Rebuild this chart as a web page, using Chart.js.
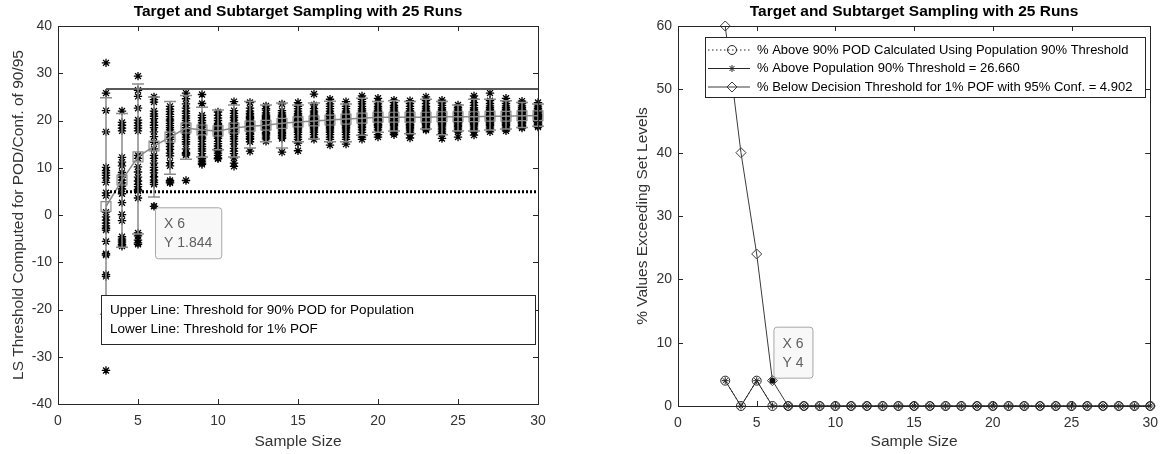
<!DOCTYPE html>
<html><head><meta charset="utf-8">
<script src="https://cdn.jsdelivr.net/npm/chart.js@4.4.0/dist/chart.umd.min.js"></script>
<style>
html,body{margin:0;padding:0;background:#fff;}
#wrap{position:relative;width:1167px;height:454px;overflow:hidden;}
#c1{position:absolute;left:0;top:0;}
#c2{position:absolute;left:583px;top:0;}
</style></head><body>
<div id="wrap"><canvas id="c1" width="583" height="454"></canvas><canvas id="c2" width="584" height="454"></canvas></div>
<script>
// ---------------- DATA ----------------
const chartTitle = 'Target and Subtarget Sampling with 25 Runs';
const sampleSizes = [3,4,5,6,7,8,9,10,11,12,13,14,15,16,17,18,19,20,21,22,23,24,25,26,27,28,29,30];
const xTicks = [0,5,10,15,20,25,30];
const leftYTicks = [-40,-30,-20,-10,0,10,20,30,40];
const rightYTicks = [0,10,20,30,40,50,60];

// 25 run thresholds per sample size (left panel)
const runsBySize = [
 [32.2,25.8,22.1,17.6,10.1,9.4,8.9,8.4,7.8,6.9,4.7,4.1,0.6,-0.4,-1.1,-1.7,-2.3,-2.8,-3.2,-5.6,-8.2,-8.5,-12.6,-13.0,-32.9],
 [22.0,19.6,19.0,18.4,17.8,12.2,11.2,10.4,9.0,8.5,8.0,7.4,6.8,6.1,5.5,4.5,2.6,0.1,-1.2,-4.6,-5.1,-5.5,-5.9,-6.3,-6.6],
 [29.4,26.4,25.1,22.6,20.1,19.5,18.9,18.4,17.8,12.6,12.0,10.2,9.1,8.0,7.2,6.5,6.0,5.4,5.1,3.6,-3.8,-4.4,-5.3,-5.9,-6.2],
 [25.0,24.4,23.9,22.0,21.4,20.9,20.4,19.6,19.0,18.5,17.6,16.6,15.4,14.0,12.6,12.0,11.0,10.1,9.5,8.9,8.1,7.4,6.9,6.5,1.844],
 [23.0,22.4,21.9,21.3,20.8,20.3,19.9,19.4,18.9,18.5,18.0,17.5,17.0,16.5,16.0,15.1,14.5,13.9,13.1,12.5,11.1,10.4,7.3,7.0,6.8],
 [25.8,24.6,23.5,22.6,22.0,21.5,21.0,20.5,20.0,19.5,19.0,18.5,18.0,17.8,17.4,17.0,16.5,16.0,15.5,15.0,14.0,13.2,13.0,12.7,7.3],
 [25.5,23.6,21.1,20.6,20.0,19.5,19.0,18.6,18.1,17.6,17.2,17.0,16.5,16.1,15.6,15.0,14.5,14.0,13.5,13.0,12.4,11.9,11.4,11.0,10.7],
 [21.8,21.1,20.5,20.0,19.4,19.1,18.6,18.2,18.0,17.6,17.3,17.0,16.6,16.2,15.6,15.1,14.6,14.1,13.6,13.1,12.6,12.1,11.9,18.8,16.8],
 [24.0,22.1,21.5,21.0,20.6,20.1,19.6,19.1,18.6,18.2,18.0,17.6,17.2,17.0,16.6,16.1,15.6,15.0,14.1,13.5,13.0,12.1,11.0,10.3,19.4],
 [23.8,22.6,22.0,21.5,21.2,20.8,20.4,20.1,19.7,19.4,19.1,18.7,18.4,18.0,17.6,17.2,17.0,16.6,16.2,16.0,15.5,13.5,20.6,19.0,18.2],
 [23.1,22.5,22.2,21.6,21.2,20.8,20.4,20.2,19.8,19.5,19.2,18.8,18.5,18.2,17.9,17.5,17.2,16.9,16.5,16.1,15.6,20.6,19.0,18.0,21.0],
 [23.5,22.1,21.6,21.2,20.8,20.5,20.2,19.8,19.5,19.2,19.0,18.8,18.5,18.2,17.8,17.5,17.2,16.8,16.5,16.2,13.3,20.0,19.4,18.6,21.0],
 [23.8,23.0,22.5,22.0,21.5,21.2,20.8,20.5,20.2,19.8,19.5,19.2,18.8,18.5,18.2,17.8,17.5,17.0,16.5,16.0,15.2,13.6,20.0,19.0,21.0],
 [25.6,23.3,22.5,22.0,21.6,21.2,20.8,20.5,20.2,20.0,19.8,19.5,19.2,18.8,18.5,18.2,17.8,17.5,17.0,16.5,16.0,20.4,19.6,19.0,21.0],
 [24.5,23.5,23.0,22.5,22.0,21.5,21.2,20.8,20.5,20.2,19.8,19.5,19.2,18.8,18.5,18.2,17.8,17.5,17.0,16.5,16.0,14.8,20.0,19.0,21.0],
 [24.0,23.0,22.5,22.0,21.6,21.2,20.8,20.5,20.2,19.8,19.5,19.2,18.8,18.5,18.2,17.8,17.5,17.0,16.5,16.0,15.0,20.0,19.0,21.0,20.6],
 [25.2,24.5,24.0,23.5,23.0,22.5,22.0,21.6,21.2,20.8,20.5,20.2,19.8,19.5,19.2,18.8,18.5,18.0,17.5,17.0,16.5,16.0,21.0,20.0,22.2],
 [24.7,24.0,23.5,23.0,22.6,22.2,21.8,21.5,21.2,20.8,20.5,20.2,19.8,19.5,19.2,18.8,18.5,18.0,17.5,17.0,16.5,21.0,20.0,22.0,19.0],
 [24.3,23.8,23.2,22.8,22.4,22.0,21.6,21.3,21.0,20.7,20.4,20.1,19.8,19.5,19.2,18.9,18.6,18.2,17.8,17.4,17.0,21.0,20.0,22.0,19.5],
 [24.2,23.6,23.0,22.5,22.0,21.6,21.2,20.8,20.5,20.2,19.8,19.5,19.2,18.8,18.5,18.2,17.8,17.4,17.0,16.3,21.0,20.0,22.0,19.0,20.6],
 [25.0,24.2,23.6,23.0,22.6,22.2,21.8,21.5,21.2,20.9,20.6,20.3,20.0,19.7,19.4,19.1,18.8,18.5,18.2,18.0,21.0,20.5,22.0,19.5,21.4],
 [24.3,23.7,23.2,22.7,22.3,21.9,21.5,21.2,20.9,20.6,20.3,20.0,19.7,19.4,19.1,18.8,18.4,18.0,17.6,16.2,21.0,20.5,22.0,19.5,17.2],
 [23.3,22.8,22.4,22.0,21.7,21.4,21.1,20.8,20.5,20.2,19.9,19.6,19.3,19.0,18.7,18.4,18.0,17.6,16.5,21.0,20.6,22.0,19.5,20.0,21.5],
 [25.2,24.5,23.8,23.2,22.7,22.3,21.9,21.5,21.2,20.9,20.6,20.3,20.0,19.7,19.4,19.1,18.8,18.4,18.0,17.6,16.9,21.0,20.5,22.0,19.5],
 [25.8,24.2,23.6,23.1,22.7,22.3,21.9,21.6,21.3,21.0,20.7,20.4,20.1,19.8,19.5,19.2,18.9,18.6,18.2,17.6,21.0,20.5,22.0,19.5,20.8],
 [24.7,24.1,23.6,23.1,22.7,22.3,21.9,21.6,21.3,21.0,20.7,20.4,20.1,19.8,19.5,19.2,18.9,18.6,18.2,17.8,21.0,20.5,22.0,19.5,20.8],
 [24.1,23.6,23.1,22.7,22.3,22.0,21.7,21.4,21.1,20.8,20.5,20.2,19.9,19.6,19.3,19.0,18.7,18.4,21.0,20.5,22.0,19.5,20.8,21.2,20.0],
 [23.8,23.3,22.9,22.5,22.2,21.9,21.6,21.3,21.0,20.7,20.4,20.1,19.8,19.5,19.2,18.9,18.6,19.0,21.0,20.5,22.0,19.5,20.8,21.2,20.0]
];
const meanVals = [1.8,7.4,12.3,14.6,16.5,18.4,18.0,17.8,18.4,18.8,19.0,19.4,19.7,19.9,20.1,20.3,20.5,20.7,20.7,20.7,20.7,20.8,20.8,20.8,20.9,20.9,21.0,21.0];
const barHigh = [24.8,21.5,27.7,25.0,24.0,25.3,22.8,22.2,23.3,24.0,23.3,23.7,23.3,23.7,24.1,23.5,24.7,24.0,24.2,24.0,24.5,24.0,23.3,24.5,24.5,24.2,23.8,23.5];
const barLow = [-21.0,-6.8,-4.0,3.8,8.6,11.8,12.3,13.8,12.3,14.2,15.5,14.2,15.5,16.1,15.5,15.5,16.9,17.5,17.8,17.2,18.2,17.0,17.8,17.8,18.0,18.2,18.5,18.8];
const popThreshold = 26.660;      // upper line
const pofThreshold = 4.902;       // lower line
const leftTip = {x: 6, y: 1.844};
const noteLines = ['Upper Line: Threshold for 90% POD for Population', 'Lower Line: Threshold for 1% POF'];

// right panel
const pctAbovePodCalc = [4,0,4,0,0,0,0,0,0,0,0,0,0,0,0,0,0,0,0,0,0,0,0,0,0,0,0,0];
const pctAbovePop     = [4,0,4,0,0,0,0,0,0,0,0,0,0,0,0,0,0,0,0,0,0,0,0,0,0,0,0,0];
const pctBelowDecision= [60,40,24,4,0,0,0,0,0,0,0,0,0,0,0,0,0,0,0,0,0,0,0,0,0,0,0,0];
const legendLabels = ['% Above 90% POD Calculated Using Population 90% Threshold',
  '% Above Population 90% Threshold = 26.660',
  '% Below Decision Threshold for 1% POF with 95% Conf. = 4.902'];
const rightTip = {x: 6, y: 4};

// ---------------- HELPERS ----------------
const FONT = '"Liberation Sans", Arial, Helvetica, sans-serif';
const AX = '#262626';
const TXT = '#333333';
Chart.defaults.font.family = FONT;
Chart.defaults.color = TXT;

function xy(xs, ys){ return xs.map((x,i)=>({x, y: ys[i]})); }

const boxPlugin = {
  id: 'mbox',
  afterDraw(chart){
    const {ctx, chartArea: a, scales} = chart;
    ctx.save();
    ctx.strokeStyle = AX; ctx.lineWidth = 1;
    ctx.strokeRect(Math.round(a.left)+0.5, Math.round(a.top)+0.5, Math.round(a.right-a.left), Math.round(a.bottom-a.top));
    const tl = 5;
    ctx.beginPath();
    scales.x.ticks.forEach(t=>{
      const px = Math.round(scales.x.getPixelForValue(t.value))+0.5;
      ctx.moveTo(px, a.bottom); ctx.lineTo(px, a.bottom - tl);
      ctx.moveTo(px, a.top); ctx.lineTo(px, a.top + tl);
    });
    scales.y.ticks.forEach(t=>{
      const py = Math.round(scales.y.getPixelForValue(t.value))+0.5;
      ctx.moveTo(a.left, py); ctx.lineTo(a.left + tl, py);
      ctx.moveTo(a.right, py); ctx.lineTo(a.right - tl, py);
    });
    ctx.stroke();
    ctx.fillStyle = '#000';
    ctx.font = 'bold 15.5px ' + FONT;
    ctx.textAlign = 'center'; ctx.textBaseline = 'middle';
    ctx.fillText(chartTitle, (a.left + a.right)/2, 12);
    ctx.restore();
  }
};

function drawTip(chart, tip, below){
  const {ctx, scales} = chart;
  const px = scales.x.getPixelForValue(tip.x), py = scales.y.getPixelForValue(tip.y);
  const lines = ['X ' + tip.x, 'Y ' + tip.y];
  ctx.save();
  ctx.font = '14px ' + FONT;
  const w = Math.max(...lines.map(l=>ctx.measureText(l).width)) + 18;
  const h = 51;
  const bx = px + 1, by = below ? py + 1 : py - h - 3;
  ctx.fillStyle = 'rgba(248,248,248,0.95)';
  ctx.strokeStyle = '#a8a8a8'; ctx.lineWidth = 1;
  ctx.beginPath();
  if (ctx.roundRect) ctx.roundRect(bx+0.5, by+0.5, w, h, 3); else ctx.rect(bx+0.5, by+0.5, w, h);
  ctx.fill(); ctx.stroke();
  ctx.fillStyle = '#606060';
  ctx.textAlign = 'left'; ctx.textBaseline = 'middle';
  ctx.fillText(lines[0], bx + 9, by + 17);
  ctx.fillText(lines[1], bx + 9, by + 36);
  ctx.fillStyle = '#111';
  ctx.beginPath(); ctx.arc(px, py, 3, 0, Math.PI*2); ctx.fill();
  ctx.restore();
}

// ---------------- LEFT CHART ----------------
const scatterPts = [];
runsBySize.forEach((col,i)=>col.forEach(v=>scatterPts.push({x: sampleSizes[i], y: v})));

const leftExtras = {
  id: 'leftExtras',
  afterDatasetsDraw(chart){
    const {ctx, scales} = chart;
    ctx.save();
    ctx.strokeStyle = '#8a8a8a'; ctx.lineWidth = 1.5;
    ctx.beginPath();
    sampleSizes.forEach((s,i)=>{
      const px = scales.x.getPixelForValue(s);
      const yh = scales.y.getPixelForValue(barHigh[i]), yl = scales.y.getPixelForValue(barLow[i]);
      ctx.moveTo(px, yh); ctx.lineTo(px, yl);
      ctx.moveTo(px-6, yh); ctx.lineTo(px+6, yh);
      ctx.moveTo(px-6, yl); ctx.lineTo(px+6, yl);
    });
    ctx.stroke();
    ctx.restore();
  },
  afterDraw(chart){
    const {ctx} = chart;
    ctx.save();
    ctx.fillStyle = '#fff'; ctx.strokeStyle = AX; ctx.lineWidth = 1;
    ctx.fillRect(101, 295, 434, 49);
    ctx.strokeRect(101.5, 295.5, 434, 49);
    ctx.fillStyle = '#000'; ctx.font = '13.5px ' + FONT;
    ctx.textAlign = 'left'; ctx.textBaseline = 'middle';
    ctx.fillText(noteLines[0], 110, 310);
    ctx.fillText(noteLines[1], 110, 329);
    ctx.restore();
    drawTip(chart, leftTip, true);
  }
};

new Chart(document.getElementById('c1'), {
  type: 'scatter',
  data: { datasets: [
    { label: 'upper', data: [{x: sampleSizes[0], y: popThreshold}, {x: sampleSizes[sampleSizes.length-1], y: popThreshold}],
      showLine: true, borderColor: '#5a5a5a', borderWidth: 2, pointRadius: 0, order: 0 },
    { label: 'lower', data: [{x: sampleSizes[0], y: pofThreshold}, {x: sampleSizes[sampleSizes.length-1], y: pofThreshold}],
      showLine: true, borderColor: '#000', borderWidth: 3, borderDash: [2,2], pointRadius: 0, order: 0 },
    { label: 'mean', data: xy(sampleSizes, meanVals), showLine: true, borderColor: '#8a8a8a', borderWidth: 1.5,
      pointStyle: 'rect', pointRadius: 7, pointBorderColor: '#8a8a8a', pointBackgroundColor: 'rgba(0,0,0,0)', pointBorderWidth: 1.2, order: 1 },
    { label: 'runs', data: scatterPts, pointStyle: 'star', pointRadius: 4.2, pointBorderColor: '#000', pointBorderWidth: 1.3,
      pointBackgroundColor: '#000', order: 2 }
  ]},
  options: {
    responsive: false, animation: false, clip: false,
    layout: { padding: { top: 26, right: 45, left: 0, bottom: 0 } },
    plugins: { legend: { display: false }, tooltip: { enabled: false } },
    scales: {
      x: { type: 'linear', min: 0, max: 30, afterFit: s => { s.height = 50; },
        afterBuildTicks: s => { s.ticks = xTicks.map(v=>({value: v})); },
        grid: { display: false, drawTicks: false }, border: { display: false },
        ticks: { padding: 9, font: { size: 14 }, color: TXT, maxRotation: 0 },
        title: { display: true, text: 'Sample Size', font: { size: 15.5 }, color: TXT, padding: { top: 0, bottom: 3 } } },
      y: { type: 'linear', min: -40, max: 40, afterFit: s => { s.width = 58; },
        afterBuildTicks: s => { s.ticks = leftYTicks.map(v=>({value: v})); },
        grid: { display: false, drawTicks: false }, border: { display: false },
        ticks: { padding: 6, font: { size: 14 }, color: TXT },
        title: { display: true, text: 'LS Threshold Computed for POD/Conf. of 90/95', font: { size: 15.5 }, color: TXT, padding: { top: 9, bottom: 0 } } }
    }
  },
  plugins: [boxPlugin, leftExtras]
});

// ---------------- RIGHT CHART ----------------
const seriesStyles = [
  { dash: [1.5,2.5], style: 'circle', r: 4.5, color: '#262626' },
  { dash: [], style: 'star', r: 3.5, color: '#262626' },
  { dash: [], style: 'rectRot', r: 5, color: '#3a3a3a' }
];
const rightSeries = [pctAbovePodCalc, pctAbovePop, pctBelowDecision];

const rightExtras = {
  id: 'rightExtras',
  afterDraw(chart){
    const {ctx} = chart;
    ctx.save();
    const lx = 122, ly = 37, lw = 440, lh = 60;
    ctx.fillStyle = '#fff'; ctx.fillRect(lx, ly, lw, lh);
    ctx.strokeStyle = AX; ctx.lineWidth = 1; ctx.strokeRect(lx+0.5, ly+0.5, lw, lh);
    ctx.font = '13px ' + FONT; ctx.textAlign = 'left'; ctx.textBaseline = 'middle';
    legendLabels.forEach((lab, i)=>{
      const yy = ly + 13 + i*18.5;
      const st = seriesStyles[i];
      ctx.strokeStyle = st.color; ctx.lineWidth = 1; ctx.setLineDash(st.dash);
      ctx.beginPath(); ctx.moveTo(lx+3, yy); ctx.lineTo(lx+45, yy); ctx.stroke();
      ctx.setLineDash([]);
      ctx.fillStyle = 'rgba(0,0,0,0)';
      Chart.helpers.drawPoint(ctx, { pointStyle: st.style, radius: st.r, rotation: 0, borderWidth: 1 }, lx+27, yy);
      ctx.fillStyle = '#000';
      ctx.fillText(lab, lx + 52, yy);
    });
    ctx.restore();
    drawTip(chart, rightTip, false);
  }
};

new Chart(document.getElementById('c2'), {
  type: 'scatter',
  data: { datasets: rightSeries.map((vals, i)=>({
    label: legendLabels[i], data: xy(sampleSizes, vals), showLine: true,
    borderColor: seriesStyles[i].color, borderWidth: 1, borderDash: seriesStyles[i].dash,
    pointStyle: seriesStyles[i].style, pointRadius: seriesStyles[i].r,
    pointBorderColor: seriesStyles[i].color, pointBackgroundColor: 'rgba(0,0,0,0)', pointBorderWidth: 1, clip: false
  }))},
  options: {
    responsive: false, animation: false,
    layout: { padding: { top: 26, right: 9, left: 0, bottom: 0 } },
    plugins: { legend: { display: false }, tooltip: { enabled: false } },
    scales: {
      x: { type: 'linear', min: 0, max: 30, afterFit: s => { s.height = 48; },
        afterBuildTicks: s => { s.ticks = xTicks.map(v=>({value: v})); },
        grid: { display: false, drawTicks: false }, border: { display: false },
        ticks: { padding: 9, font: { size: 14 }, color: TXT, maxRotation: 0 },
        title: { display: true, text: 'Sample Size', font: { size: 15.5 }, color: TXT, padding: { top: 0, bottom: 3 } } },
      y: { type: 'linear', min: 0, max: 60, afterFit: s => { s.width = 95; },
        afterBuildTicks: s => { s.ticks = rightYTicks.map(v=>({value: v})); },
        grid: { display: false, drawTicks: false }, border: { display: false },
        ticks: { padding: 6, font: { size: 14 }, color: TXT },
        title: { display: true, text: '% Values Exceeding Set Levels', font: { size: 15.5 }, color: TXT, padding: { top: 50, bottom: 0 } } }
    }
  },
  plugins: [boxPlugin, rightExtras]
});
</script>
</body></html>
